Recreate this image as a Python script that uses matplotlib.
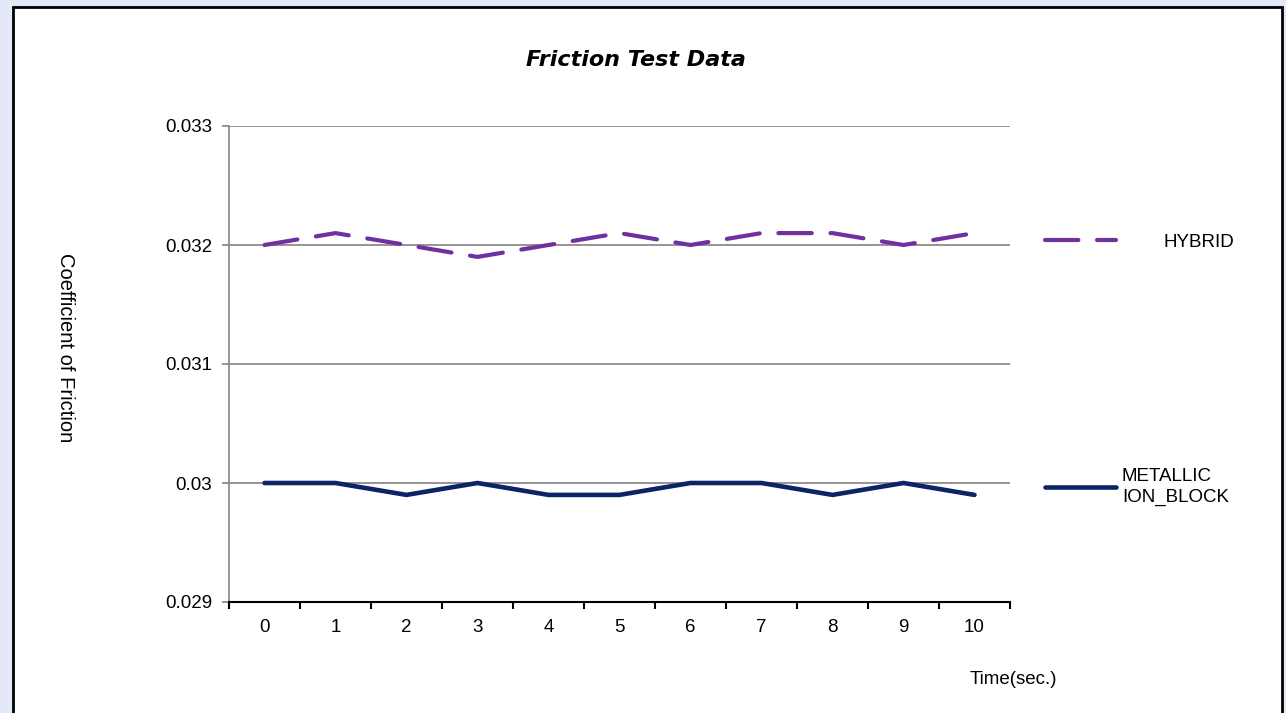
import matplotlib
matplotlib.use('Agg')
import matplotlib.pyplot as plt
from matplotlib.patches import Rectangle
import numpy as np

# 数据
time_sec = [0, 1, 2, 3, 4, 5, 6, 7, 8, 9, 10]
hybrid = [0.0320, 0.0321, 0.0320, 0.0319, 0.0320, 0.0321, 0.0320, 0.0321, 0.0321, 0.0320, 0.0321]
metallic = [0.0300, 0.0300, 0.0299, 0.0300, 0.0299, 0.0299, 0.0300, 0.0300, 0.0299, 0.0300, 0.0299]
y_ticks = [0.029, 0.030, 0.031, 0.032, 0.033]
y_labels = ['0.029', '0.03', '0.031', '0.032', '0.033']

plt.rcParams['font.family'] = ['Liberation Sans', 'DejaVu Sans']

fig = plt.figure(figsize=(12.86, 7.13), dpi=100, facecolor='#e4e9fa')
# 白色图框
fig.patches.append(Rectangle((13 / 1286, -0.02), (1282 - 13) / 1286, 1.02 - 7 / 713,
                             transform=fig.transFigure, facecolor='white',
                             edgecolor='black', linewidth=2, zorder=-5))

ax = fig.add_axes([229 / 1286, 1 - 602 / 713, (1010 - 229) / 1286, (602 - 126) / 713])
ax.set_facecolor('none')

x = np.arange(len(time_sec))
ax.plot(x, hybrid, color='#7030a0', linewidth=3, linestyle=(0, (8, 4.5)),
        dash_capstyle='round', solid_capstyle='round', label='HYBRID', zorder=3)
ax.plot(x, metallic, color='#0b2466', linewidth=3.3,
        solid_capstyle='round', label='METALLIC\nION_BLOCK', zorder=3)

ax.set_xlim(-0.5, len(time_sec) - 0.5)
ax.set_ylim(0.029, 0.033)
ax.set_yticks(y_ticks)
ax.set_yticklabels(y_labels, fontsize=13.5)
ax.yaxis.grid(True, color='#8c8c8c', linewidth=1.3)
ax.set_axisbelow(True)

# 分类轴: 主刻度在边界, 次刻度放标签
ax.set_xticks(np.arange(-0.5, len(time_sec), 1))
ax.set_xticklabels([])
ax.set_xticks(x, minor=True)
ax.set_xticklabels([str(t) for t in time_sec], minor=True, fontsize=13.5)
ax.tick_params(axis='x', which='major', direction='out', length=5, width=1.5, color='black')
ax.tick_params(axis='x', which='minor', length=0, pad=12)
ax.tick_params(axis='y', direction='out', length=5, width=1.3, color='#8c8c8c', pad=7)

for s in ['top', 'right']:
    ax.spines[s].set_visible(False)
ax.spines['left'].set_color('#8c8c8c')
ax.spines['left'].set_linewidth(1.3)
ax.spines['bottom'].set_color('black')
ax.spines['bottom'].set_linewidth(1.5)

# 图例
h, l = ax.get_legend_handles_labels()
leg1 = fig.legend([h[0]], [l[0]], loc='center left', bbox_to_anchor=(1045 / 1286, 1 - 242 / 713),
                  frameon=False, borderpad=0, borderaxespad=0, handlelength=3.8,
                  handletextpad=2.5, fontsize=13.5)
leg2 = fig.legend([h[1]], [l[1]], loc='center left', bbox_to_anchor=(1045 / 1286, 1 - 487 / 713),
                  frameon=False, borderpad=0, borderaxespad=0, handlelength=3.8,
                  handletextpad=0.3, fontsize=13.5)
leg2.get_texts()[0].set_linespacing(1.3)

fig.text(636 / 1286, 1 - 60 / 713, 'Friction Test Data', ha='center', va='center',
         fontsize=16, fontweight='bold', fontstyle='italic', family='DejaVu Sans')
fig.text(65 / 1286, 1 - 348 / 713, 'Coefficient of Friction', rotation=-90,
         ha='center', va='center', fontsize=14.5)
fig.text(1013 / 1286, 1 - 679 / 713, 'Time(sec.)', ha='center', va='center', fontsize=13.5)

plt.savefig('out.png', dpi=100, facecolor=fig.get_facecolor())
plt.close()
